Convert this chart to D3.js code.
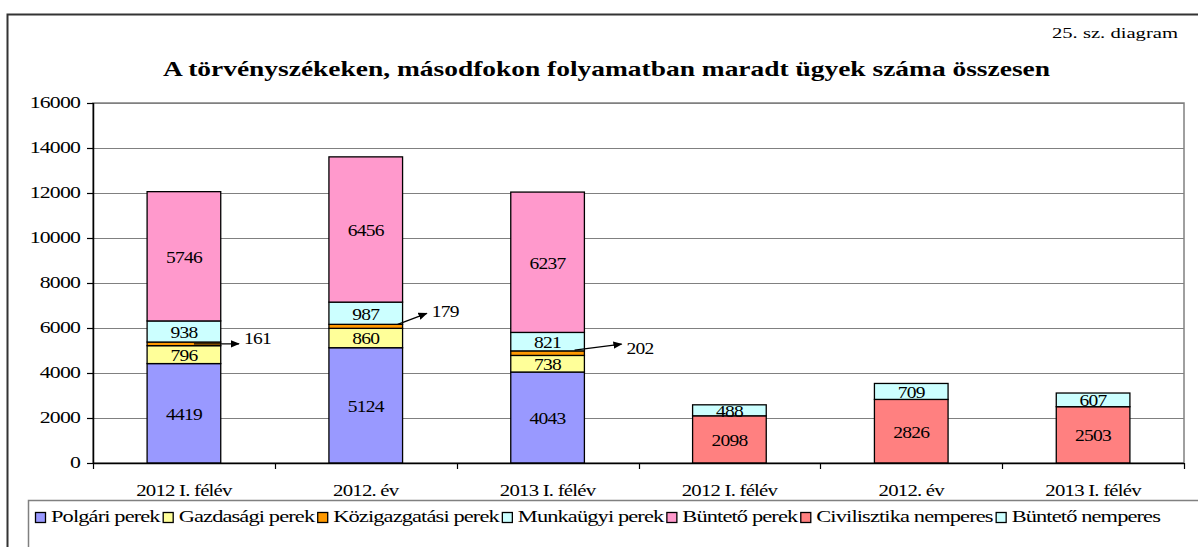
<!DOCTYPE html>
<html><head><meta charset="utf-8">
<script src="https://cdn.jsdelivr.net/npm/d3@7"></script>
<style>
html,body{margin:0;padding:0;background:#fff;}
svg text{font-family:"Liberation Serif","Times New Roman",serif;fill:#000;}
</style></head>
<body><svg id="c" width="1198" height="547" font-family="Liberation Serif, Times New Roman, serif"></svg>
<script>
const categories = ["2012 I. félév","2012. év","2013 I. félév","2012 I. félév","2012. év","2013 I. félév"];
const seriesNames = ["Polgári perek","Gazdasági perek","Közigazgatási perek","Munkaügyi perek","Büntető perek","Civilisztika nemperes","Büntető nemperes"];
const polgari      = [4419, 5124, 4043, 0, 0, 0];
const gazdasagi    = [796, 860, 738, 0, 0, 0];
const kozigazgatasi= [161, 179, 202, 0, 0, 0];
const munkaugyi    = [938, 987, 821, 0, 0, 0];
const bunteto      = [5746, 6456, 6237, 0, 0, 0];
const civilisztika = [0, 0, 0, 2098, 2826, 2503];
const buntetoNem   = [0, 0, 0, 488, 709, 607];
const colors = ["#9999FF","#FFFF99","#FF9900","#CCFFFF","#FF99CC","#FF8080","#CCFFFF"];
const yTicks = [0,2000,4000,6000,8000,10000,12000,14000,16000];
const title = "A törvényszékeken, másodfokon folyamatban maradt ügyek száma összesen";
const subtitle = "25. sz. diagram";
const calloutSeries = 2; // Közigazgatási perek labelled with arrows

const allSeries = [polgari,gazdasagi,kozigazgatasi,munkaugyi,bunteto,civilisztika,buntetoNem];
const svg = d3.select("#c");
const SX = 1.22;

svg.append("defs").append("marker").attr("id","arr").attr("viewBox","0 0 10 10")
  .attr("refX",9).attr("refY",5).attr("markerWidth",7).attr("markerHeight",7).attr("orient","auto")
  .append("path").attr("d","M0,1 L10,5 L0,9 Z").attr("fill","#000");

// outer frame
svg.append("path").attr("d","M7.5,560 L7.5,14.5 L1210,14.5").attr("fill","none").attr("stroke","#333").attr("stroke-width",2);

function stxt(g, x, y, s, size, anchor, opts={}) {
  const t = g.append("text").attr("transform",`translate(${x},${y}) scale(${opts.sx||SX},1)`)
    .attr("font-family","Liberation Serif, Times New Roman, serif")
    .attr("text-anchor",anchor).attr("font-size",size).attr("dominant-baseline","central")
    .attr("letter-spacing", opts.ls!==undefined?opts.ls:-0.6).text(s);
  if (opts.bold) t.attr("font-weight","bold");
  return t;
}

// title
svg.append("text").attr("x",163).attr("y",68).attr("dominant-baseline","central")
  .attr("font-family","Liberation Serif, Times New Roman, serif")
  .attr("font-size",22).attr("font-weight","bold").attr("textLength",887)
  .attr("lengthAdjust","spacingAndGlyphs").text(title);
svg.append("text").attr("x",1052).attr("y",33).attr("dominant-baseline","central")
  .attr("font-family","Liberation Serif, Times New Roman, serif")
  .attr("font-size",15).attr("textLength",126).attr("lengthAdjust","spacingAndGlyphs").text(subtitle);

const m = {l:93, r:1184, t:103, b:463};
const x = d3.scaleBand().domain(d3.range(categories.length)).range([m.l,m.r]).paddingInner(0.595).paddingOuter(0.2975);
const y = d3.scaleLinear().domain([0,16000]).range([m.b,m.t]);

// plot border & grid
const g = svg.append("g");
g.append("rect").attr("x",m.l).attr("y",m.t).attr("width",m.r-m.l).attr("height",m.b-m.t)
  .attr("fill","none").attr("stroke","#808080").attr("stroke-width",1.5);
g.selectAll(".grid").data(yTicks.filter(d=>d>0)).join("line")
  .attr("x1",m.l).attr("x2",m.r).attr("y1",d=>Math.round(y(d))+0.5).attr("y2",d=>Math.round(y(d))+0.5)
  .attr("stroke","#808080").attr("stroke-width",1.2);

// stacked bars
const rows = categories.map((c,i)=>{const o={i}; seriesNames.forEach((s,k)=>o[s]=allSeries[k][i]); return o;});
const stack = d3.stack().keys(seriesNames)(rows);
stack.forEach((layer,k)=>{
  g.selectAll(null).data(layer.filter(d=>d[1]-d[0]>0)).join("rect")
    .attr("x",d=>x(d.data.i)).attr("width",x.bandwidth())
    .attr("y",d=>y(d[1])).attr("height",d=>y(d[0])-y(d[1]))
    .attr("fill",colors[k]).attr("stroke","#000").attr("stroke-width",1.3);
});
// labels
const callouts = [{sx:10,sy:0,ex:55,ey:0,ly:-5},{sx:32,sy:-2,ex:61,ey:-13,ly:-2},{sx:27,sy:-3,ex:74,ey:-9,ly:4}];
stack.forEach((layer,k)=>{
  layer.forEach(d=>{
    const v = d[1]-d[0];
    if (v<=0) return;
    const cx = x(d.data.i)+x.bandwidth()/2;
    if (k===calloutSeries) {
      const yc = y((d[0]+d[1])/2);
      const c = callouts[d.data.i];
      g.append("line").attr("x1",cx+c.sx).attr("y1",yc+c.sy).attr("x2",cx+c.ex).attr("y2",yc+c.ey)
        .attr("stroke","#000").attr("stroke-width",1.3).attr("marker-end","url(#arr)");
      stxt(g, cx+c.ex+5, yc+c.ey+c.ly, v, 16, "start");
    } else {
      stxt(g, cx, y((d[0]+d[1])/2)+1, v, 16, "middle");
    }
  });
});

// axes
g.append("line").attr("x1",m.l+0.5).attr("x2",m.l+0.5).attr("y1",m.t).attr("y2",m.b).attr("stroke","#000").attr("stroke-width",1.5);
g.append("line").attr("x1",m.l).attr("x2",m.r).attr("y1",m.b+0.5).attr("y2",m.b+0.5).attr("stroke","#000").attr("stroke-width",1.5);
yTicks.forEach(t=>{
  g.append("line").attr("x1",m.l-6).attr("x2",m.l).attr("y1",Math.round(y(t))+0.5).attr("y2",Math.round(y(t))+0.5).attr("stroke","#000").attr("stroke-width",1.2);
  stxt(g, 80, y(t), t, 16, "end", {sx:1.36});
});
const step = x.step();
d3.range(categories.length+1).forEach(i=>{
  const xx = Math.round(m.l + i*step)+0.5;
  g.append("line").attr("x1",xx).attr("x2",xx).attr("y1",m.b).attr("y2",m.b+6).attr("stroke","#000").attr("stroke-width",1.2);
});
categories.forEach((c,i)=>stxt(g, x(i)+x.bandwidth()/2, 490, c, 16, "middle", {sx:1.3}));

// legend
const lg = svg.append("g");
lg.append("rect").attr("x",28.5).attr("y",500.5).attr("width",1200).attr("height",80)
  .attr("fill","#fff").attr("stroke","#808080").attr("stroke-width",1.5);
const LSX = 1.4;
let lx = 35;
seriesNames.forEach((s,k)=>{
  lg.append("rect").attr("x",lx+0.5).attr("y",512.5).attr("width",10).attr("height",10)
    .attr("fill",colors[k]).attr("stroke","#000").attr("stroke-width",1.3);
  const t = stxt(lg, lx+16, 517, s, 16, "start", {ls:-0.62, sx:LSX});
  const w = t.node().getComputedTextLength()*LSX;
  lx += 16 + w + 3;
});
</script></body></html>
